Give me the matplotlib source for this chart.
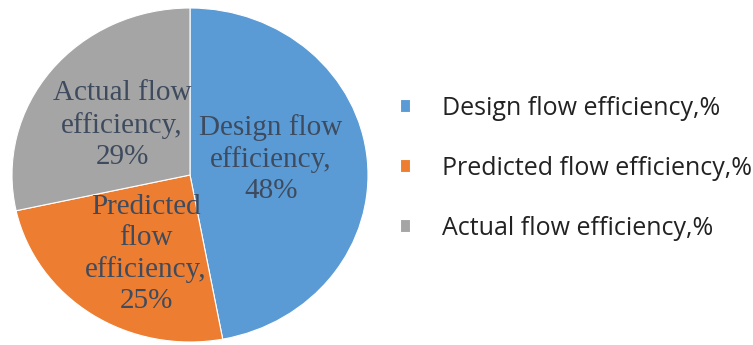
import matplotlib
matplotlib.use('Agg')

import matplotlib.pyplot as plt

# flow efficiency shares
categories = ["Design flow efficiency", "Predicted flow efficiency", "Actual flow efficiency"]
values = [48, 25, 29]
colors = ["#5B9BD5", "#ED7D31", "#A5A5A5"]

fig = plt.figure(figsize=(7.53, 3.45), dpi=100)

# pie axes (slightly wider than tall)
ax = fig.add_axes([12 / 753, 3 / 345, 356 / 753, 334 / 345])
wedges, _ = ax.pie(
    values,
    colors=colors,
    startangle=90,
    counterclock=False,
    wedgeprops=dict(edgecolor="white", linewidth=0.8),
)
ax.set_aspect("auto")
ax.set_xlim(-1, 1)
ax.set_ylim(-1, 1)
ax.axis("off")

# slice labels
label_pos = [(0.455, 0.095), (-0.247, -0.473), (-0.382, 0.30)]
label_lines = [
    ["Design flow", "efficiency,"],
    ["Predicted", "flow", "efficiency,"],
    ["Actual flow", "efficiency,"],
]
for (x, y), lines, v in zip(label_pos, label_lines, values):
    ax.text(x, y, "\n".join(lines + [f"{v}%"]),
            ha="center", va="center", fontsize=21,
            family="Liberation Serif", color="#3E4B5E",
            linespacing=1.25)

# legend on the right
fig.legend(
    wedges,
    [f"{c},%" for c in categories],
    loc="center left",
    bbox_to_anchor=(400 / 753, 0.513),
    frameon=False,
    borderpad=0,
    borderaxespad=0,
    prop=dict(family="Open Sans", size=18),
    handlelength=0.4,
    handleheight=0.4,
    handletextpad=1.3,
    labelspacing=1.4,
    labelcolor="#222222",
)

plt.savefig("out.png", dpi=100)
plt.close()
